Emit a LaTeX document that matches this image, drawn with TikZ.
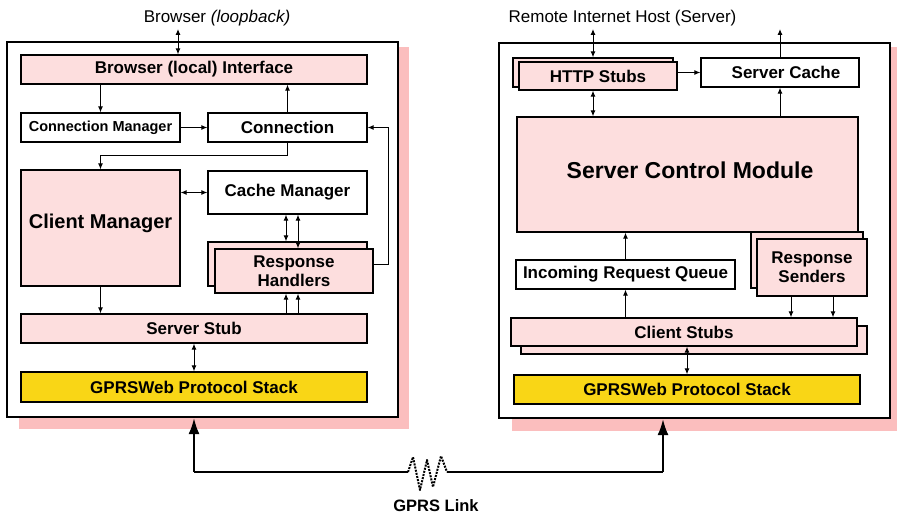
\documentclass[tikz,border=0pt]{standalone}
\usepackage{fontspec}
\setmainfont{Liberation Sans}
\usetikzlibrary{arrows.meta}
\definecolor{pinkfill}{RGB}{253,222,222}
\definecolor{pinkshadow}{RGB}{251,190,190}
\definecolor{goldfill}{RGB}{249,214,22}
\begin{document}
\begin{tikzpicture}[x=1pt,y=-1pt,
 box/.style={draw=black, line width=1.3pt, inner sep=0pt, font=\bfseries\fontsize{17}{19}\selectfont, align=center},
 pbox/.style={box, fill=pinkfill},
 wbox/.style={box, fill=white},
 ybox/.style={box, fill=goldfill},
 outerbox/.style={draw=black, line width=2.2pt, fill=white, inner sep=0pt},
 txt/.style={inner sep=0pt, align=center, font=\bfseries\fontsize{17}{19}\selectfont},
 title/.style={inner sep=0pt, font=\fontsize{17}{19}\selectfont},
 arr/.style={line width=1pt, -{Latex[length=6pt,width=5pt]}},
 darr/.style={line width=1pt, {Latex[length=6pt,width=5pt]}-{Latex[length=6pt,width=5pt]}},
 bigarr/.style={line width=2pt, -{Latex[length=16pt,width=11pt]}},
 link/.style={line width=2pt},
 zig/.style={line width=2pt, dash pattern=on 2pt off 1.2pt},
]
\useasboundingbox (0,0) rectangle (897,516);

% ---------- left host ----------
\fill[pinkshadow] (19,47) rectangle (409,429);
\node[outerbox, minimum width=391pt, minimum height=375pt] (lhost) at (202.5,229.5) {};
\node[title] (ltitle) at (217,18) {Browser \textit{(loopback)}};
\coordinate (ltop) at (178,29);

\node[pbox, minimum width=346pt, minimum height=29pt] (bi) at (194,69.5) {Browser (local) Interface};
\node[wbox, minimum width=159pt, minimum height=29pt, font=\bfseries\fontsize{14.5}{17}\selectfont] (cmgr) at (100.5,127.5) {Connection Manager};
\node[wbox, minimum width=159pt, minimum height=29pt] (conn) at (287.5,127.5) {Connection};
\node[pbox, minimum width=159pt, minimum height=116pt] (clm) at (100.5,228) {};
\node[txt, font=\bfseries\fontsize{20}{23}\selectfont] (clmt) at (100.5,223) {Client Manager};
\node[wbox, minimum width=159pt, minimum height=43pt] (cache) at (287.5,192.5) {Cache Manager};
\node[pbox, minimum width=159pt, minimum height=44pt] (rhb) at (287.5,264) {};
\node[pbox, minimum width=158pt, minimum height=44pt] (rh) at (294,271) {Response\\Handlers};
\node[pbox, minimum width=346pt, minimum height=29pt] (ss) at (194,328.5) {Server Stub};
\node[ybox, minimum width=346pt, minimum height=30pt] (gl) at (194,387) {GPRSWeb Protocol Stack};

\draw[darr] (ltop) -- (ltop |- bi.north);
\draw[arr] (bi.south -| cmgr.north) -- (cmgr.north);
\draw[arr] (cmgr.east) -- (conn.west);
\draw[arr] (conn.north) -- (conn.north |- bi.south);
\draw[arr] (conn.south) -- ++(0,13) -| (clm.north);
\draw[darr] (clm.east |- cache.west) -- (cache.west);
\draw[darr] ([xshift=-1.5pt]cache.south) -- ([xshift=-1.5pt]cache.south |- rhb.north);
\draw[darr] ([xshift=4pt]rh.north |- cache.south) -- ([xshift=4pt]rh.north);
\draw[arr] ([xshift=-8pt]rh.south |- ss.north) -- ([xshift=-8pt]rh.south);
\draw[arr] ([xshift=4pt]rh.south |- ss.north) -- ([xshift=4pt]rh.south);
\draw[line width=1pt, -{Latex[length=6pt,width=5pt]}] ([yshift=7pt]rh.east) -- ++(15,0) |- (conn.east);
\draw[arr] (clm.south) -- (clm.south |- ss.north);
\draw[darr] (ss.south) -- (gl.north);

% ---------- right host ----------
\fill[pinkshadow] (512,47) rectangle (897,431);
\node[outerbox, minimum width=391pt, minimum height=375pt] (rhost) at (694.5,230.5) {};
\node[title] (rtitle) at (622.5,18) {Remote Internet Host (Server)};
\coordinate (rtop1) at (593,29);
\coordinate (rtop2) at (780,29);

\node[pbox, minimum width=160pt, minimum height=29pt] (hsb) at (593,72.5) {};
\node[pbox, minimum width=158pt, minimum height=28pt] (hs) at (598,76) {HTTP Stubs};
\node[wbox, minimum width=158pt, minimum height=29pt] (sc) at (780,72.5) {\hspace*{12pt}Server Cache};
\node[pbox, minimum width=112pt, minimum height=56pt] (rsb) at (807,260) {};
\node[pbox, minimum width=341pt, minimum height=115pt] (scm) at (687.5,174.5) {};
\node[txt, font=\bfseries\fontsize{23}{26}\selectfont] (scmt) at (690,170) {Server Control Module};
\node[pbox, minimum width=110pt, minimum height=57pt] (rs) at (812,267.5) {Response\\Senders};
\node[wbox, minimum width=219pt, minimum height=29pt] (irq) at (625.5,274.5) {Incoming Request Queue};
\node[pbox, minimum width=346pt, minimum height=28pt] (csb) at (694,340) {};
\node[pbox, minimum width=346pt, minimum height=28pt] (cs) at (684,332) {Client Stubs};
\node[ybox, minimum width=346pt, minimum height=29pt] (gr) at (687,389.5) {GPRSWeb Protocol Stack};

\draw[darr] (rtop1) -- (hsb.north);
\draw[arr] (sc.north) -- (rtop2);
\draw[arr] (hs.east |- sc.west) -- (sc.west);
\draw[darr] (hsb.north |- hs.south) -- (hsb.north |- scm.north);
\draw[arr] (sc.south |- scm.north) -- (sc.south);
\draw[arr] (irq.north) -- (irq.north |- scm.south);
\draw[arr] (irq.south |- cs.north) -- (irq.south);
\draw[arr] ([xshift=-21pt]rs.south) -- ([xshift=-21pt]rs.south |- cs.north);
\draw[arr] ([xshift=21pt]rs.south) -- ([xshift=21pt]rs.south |- cs.north);
\draw[darr] (cs.south -| gr.north) -- (gr.north);

% ---------- GPRS link ----------
\coordinate (lk1) at (194,472);
\coordinate (z0) at (408,472);
\coordinate (z1) at (447,472);
\coordinate (lk4) at (663,472);
\draw[bigarr] (lk1) -- (lk1 |- lhost.south);
\draw[bigarr] (lk4) -- (lk4 |- rhost.south);
\draw[link] (lk1) -- (z0);
\draw[zig, line join=round] (z0) -- (413,457) -- (420,490) -- (427,460) -- (433,487) -- (441,456) -- (z1);
\draw[link] (z1) -- (lk4);
\node[txt, font=\bfseries\fontsize{16.5}{19}\selectfont] (glink) at (436,506) {GPRS Link};
\end{tikzpicture}
\end{document}
